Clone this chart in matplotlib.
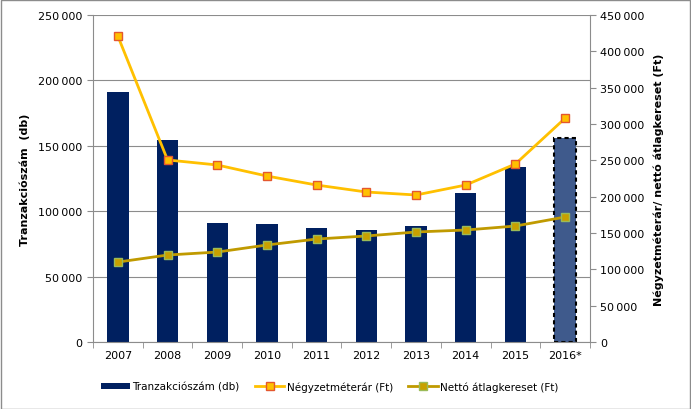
import numpy as np
import matplotlib.pyplot as plt
from matplotlib.ticker import FuncFormatter, MultipleLocator
from matplotlib.lines import Line2D
from matplotlib.patches import Patch

plt.rcParams['font.family'] = ['DejaVu Sans']

years = ['2007', '2008', '2009', '2010', '2011', '2012', '2013', '2014', '2015', '2016*']
tranzakcio = [191000, 154500, 91000, 90200, 87200, 85600, 88700, 113900, 133800, 156000]
nm_ar = [421000, 250500, 243600, 228400, 216000, 206400, 202300, 216000, 245000, 308000]
netto_ker = [110000, 119700, 123800, 133500, 141700, 145900, 151400, 154100, 159600, 172000]


def space_thousands(v, pos):
    return f"{int(v):,}".replace(",", "\u2009") if v != 0 else "0"


fig = plt.figure(figsize=(6.91, 4.10), dpi=100)
fig.patches.append(plt.Rectangle((0.001, 0.001), 0.997, 0.996, transform=fig.transFigure,
                                 fill=False, edgecolor='#8c8c8c', linewidth=1))
ax = fig.add_axes([0.1346, 0.1634, 0.7192, 0.7976])
x = np.arange(len(years))

colors = ['#002060'] * (len(years) - 1) + ['#3f5a8c']
bars = ax.bar(x, tranzakcio, width=0.43, color=colors, zorder=2)
bars[-1].set_edgecolor('black')
bars[-1].set_linestyle((0, (2, 1.5)))
bars[-1].set_linewidth(1.5)

ax.set_ylim(0, 250000)
ax.set_xlim(-0.5, len(years) - 0.5)
ax.yaxis.set_major_locator(MultipleLocator(50000))
ax.yaxis.set_major_formatter(FuncFormatter(space_thousands))
ax.set_xticks(x)
ax.set_xticklabels(years)
ax.set_xticks(np.arange(-0.5, len(years), 1), minor=True)
ax.tick_params(axis='x', which='major', length=0, labelsize=8, pad=6)
ax.tick_params(axis='x', which='minor', length=4, color='#8c8c8c', direction='out')
ax.tick_params(axis='y', labelsize=8, length=4, color='#8c8c8c', direction='out')
ax.grid(axis='y', color='#8c8c8c', linewidth=0.8, zorder=0)
ax.set_axisbelow(True)
for s in ['top', 'right']:
    ax.spines[s].set_visible(False)
for s in ['left', 'bottom']:
    ax.spines[s].set_color('#8c8c8c')
ax.set_ylabel('Tranzakciószám  (db)', fontsize=8, fontweight='bold', labelpad=6)

ax2 = ax.twinx()
ax2.plot(x, nm_ar, color='#ffc000', linewidth=2, marker='s', markersize=5.5,
         markerfacecolor='#ffc000', markeredgecolor='#e4572e', markeredgewidth=1, zorder=3)
ax2.plot(x, netto_ker, color='#c09a00', linewidth=2, marker='s', markersize=5.5,
         markerfacecolor='#c8a000', markeredgecolor='#9bbb59', markeredgewidth=1, zorder=3)
ax2.set_ylim(0, 450000)
ax2.yaxis.set_major_locator(MultipleLocator(50000))
ax2.yaxis.set_major_formatter(FuncFormatter(space_thousands))
ax2.tick_params(axis='y', labelsize=8, length=4, color='#8c8c8c', direction='out')
for s in ['top', 'left', 'bottom']:
    ax2.spines[s].set_visible(False)
ax2.spines['right'].set_color('#8c8c8c')
ax2.set_ylabel('Négyzetméterár/ nettó átlagkereset (Ft)', fontsize=8, fontweight='bold', labelpad=6)

handles = [
    Patch(facecolor='#002060', label='Tranzakciószám (db)'),
    Line2D([0], [0], color='#ffc000', linewidth=2, marker='s', markersize=5.5,
           markerfacecolor='#ffc000', markeredgecolor='#e4572e', label='Négyzetméterár (Ft)'),
    Line2D([0], [0], color='#c09a00', linewidth=2, marker='s', markersize=5.5,
           markerfacecolor='#c8a000', markeredgecolor='#9bbb59', label='Nettó átlagkereset (Ft)'),
]
fig.legend(handles=handles, loc='center', bbox_to_anchor=(0.477, 0.055), ncol=3, frameon=False,
           fontsize=7.5, handlelength=2.8, handleheight=0.5, columnspacing=1.5, handletextpad=0.2)

fig.savefig('out.png', dpi=100)
